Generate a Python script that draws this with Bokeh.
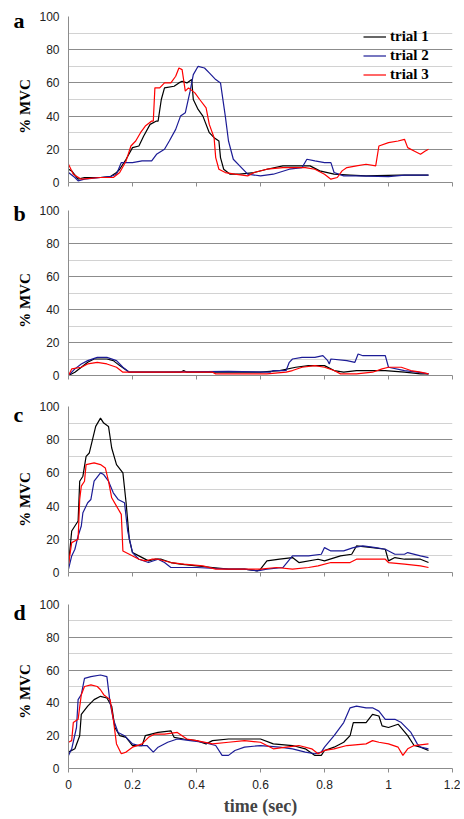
import math
from bokeh.plotting import figure
from bokeh.layouts import column, row
from bokeh.models import (Legend, LegendItem, FixedTicker, SingleIntervalTicker,
                          CustomJSTickFormatter, Range1d)
from bokeh.core.properties import value
from bokeh.embed import file_html
from bokeh.resources import INLINE

# ---------------- data (time in s, % MVC) ----------------
x_ticks = [0, 0.2, 0.4, 0.6, 0.8, 1, 1.2]
y_ticks_step = 20
trial_names = ["trial 1", "trial 2", "trial 3"]
panel_letters = ["a", "b", "c", "d"]
y_title = "% MVC"
x_title = "time (sec)"

a_trial1 = [(0, 8), (0.01, 7), (0.03, 2), (0.05, 3), (0.1, 3), (0.13, 3.5), (0.15, 6), (0.16, 8),
            (0.18, 14), (0.2, 21), (0.22, 22), (0.235, 28), (0.255, 35), (0.275, 37), (0.28, 37),
            (0.29, 50), (0.3, 57), (0.33, 58), (0.345, 60), (0.355, 61), (0.37, 60), (0.385, 62),
            (0.39, 50), (0.405, 44), (0.42, 40), (0.44, 30), (0.455, 27), (0.47, 25), (0.475, 15),
            (0.485, 8), (0.505, 5), (0.535, 5), (0.58, 6), (0.62, 8), (0.67, 10), (0.725, 10),
            (0.755, 10), (0.785, 7), (0.83, 5), (0.88, 4.5), (0.93, 4), (1.035, 4.5), (1.125, 4.5)]
a_trial2 = [(0, 6), (0.02, 3), (0.03, 1), (0.05, 2), (0.1, 3), (0.13, 3.5), (0.15, 5), (0.165, 12),
            (0.2, 12), (0.23, 13), (0.26, 13), (0.275, 17), (0.3, 20), (0.315, 25), (0.335, 32),
            (0.35, 40), (0.365, 42), (0.38, 55), (0.39, 65), (0.405, 70), (0.425, 69), (0.44, 66),
            (0.46, 62), (0.475, 60), (0.49, 40), (0.5, 25), (0.515, 14), (0.535, 10), (0.56, 5),
            (0.6, 4), (0.64, 5), (0.69, 8), (0.73, 9), (0.745, 14), (0.77, 13), (0.8, 12), (0.82, 12),
            (0.83, 6), (0.86, 4), (0.9, 4), (1.0, 3.5), (1.05, 4.5), (1.125, 4.5)]
a_trial3 = [(0, 11), (0.015, 5), (0.04, 2), (0.1, 3), (0.14, 3), (0.16, 6), (0.18, 13), (0.195, 22),
            (0.21, 25), (0.225, 30), (0.24, 34), (0.26, 37), (0.265, 37), (0.27, 57), (0.285, 57),
            (0.3, 60), (0.32, 60), (0.335, 64), (0.345, 69), (0.355, 68), (0.365, 55), (0.375, 57),
            (0.395, 54), (0.41, 50), (0.43, 45), (0.44, 35), (0.455, 27), (0.46, 15), (0.47, 8),
            (0.49, 6), (0.52, 5), (0.56, 4), (0.58, 6), (0.62, 8), (0.67, 9), (0.74, 9), (0.77, 8),
            (0.8, 5), (0.82, 2), (0.84, 3), (0.855, 7), (0.87, 9), (0.9, 10), (0.93, 11), (0.96, 10),
            (0.97, 22), (1.0, 24), (1.03, 25), (1.05, 26), (1.06, 21), (1.08, 19), (1.1, 17),
            (1.115, 19), (1.125, 20)]

b_trial1 = [(0, 0), (0.02, 2), (0.04, 5), (0.06, 8), (0.08, 10), (0.12, 10), (0.14, 9), (0.16, 6),
            (0.19, 2), (0.35, 2), (0.36, 3), (0.37, 2), (0.6, 2), (0.66, 3), (0.71, 5), (0.75, 6),
            (0.8, 6), (0.83, 3), (0.86, 2), (0.9, 3), (0.95, 3), (0.99, 3), (1.05, 2), (1.1, 1),
            (1.125, 1)]
b_trial2 = [(0, 0), (0.02, 4), (0.04, 7), (0.06, 9), (0.09, 11), (0.12, 11), (0.15, 9), (0.17, 5),
            (0.19, 2), (0.3, 2), (0.5, 2.5), (0.63, 2), (0.64, 3), (0.68, 3), (0.69, 8), (0.7, 10),
            (0.73, 11), (0.77, 11), (0.795, 12), (0.81, 9), (0.815, 7), (0.82, 10), (0.87, 9),
            (0.895, 8), (0.905, 13), (0.92, 12), (0.99, 12), (1.0, 5), (1.05, 3), (1.09, 2),
            (1.125, 1)]
b_trial3 = [(0, 0), (0.01, 4), (0.04, 5), (0.06, 7), (0.09, 8), (0.12, 7), (0.15, 5), (0.17, 2),
            (0.3, 2), (0.45, 2), (0.46, 1), (0.62, 1), (0.68, 2), (0.7, 3), (0.73, 5), (0.77, 6),
            (0.8, 5), (0.83, 3), (0.85, 1), (0.9, 1), (0.95, 2), (0.98, 4), (1.0, 5), (1.04, 5),
            (1.07, 3), (1.1, 2), (1.125, 1)]

c_trial1 = [(0, 5), (0.01, 25), (0.02, 28), (0.03, 31), (0.035, 55), (0.045, 58), (0.055, 70),
            (0.065, 72), (0.075, 80), (0.085, 88), (0.1, 93), (0.11, 90), (0.125, 88), (0.135, 75),
            (0.15, 65), (0.17, 60), (0.18, 42), (0.19, 20), (0.2, 12), (0.22, 10), (0.25, 7),
            (0.27, 8), (0.29, 8), (0.32, 6), (0.35, 5), (0.4, 4), (0.45, 3), (0.5, 2), (0.55, 2),
            (0.59, 1), (0.6, 2), (0.62, 7), (0.66, 8), (0.7, 9), (0.72, 6), (0.78, 8), (0.8, 7),
            (0.85, 10), (0.885, 11), (0.9, 16), (0.95, 15), (0.99, 14), (1.0, 7), (1.02, 9),
            (1.05, 8), (1.1, 8), (1.125, 6)]
c_trial2 = [(0, 2), (0.01, 10), (0.02, 14), (0.03, 22), (0.04, 28), (0.045, 36), (0.06, 42),
            (0.07, 44), (0.08, 55), (0.1, 60), (0.11, 59), (0.125, 55), (0.14, 48), (0.155, 44),
            (0.175, 42), (0.185, 25), (0.2, 12), (0.22, 8), (0.25, 6), (0.28, 8), (0.3, 6),
            (0.32, 3), (0.4, 3), (0.5, 2), (0.55, 2), (0.59, 1), (0.62, 2), (0.67, 3), (0.7, 10),
            (0.75, 10), (0.79, 11), (0.8, 15), (0.82, 13), (0.86, 13), (0.89, 15), (0.92, 16),
            (0.96, 15), (0.99, 14), (1.02, 11), (1.05, 11), (1.06, 12), (1.1, 10), (1.125, 9)]
c_trial3 = [(0, 5), (0.01, 18), (0.03, 20), (0.035, 44), (0.04, 52), (0.05, 55), (0.055, 65),
            (0.08, 66), (0.1, 65), (0.115, 63), (0.125, 55), (0.135, 45), (0.15, 40), (0.165, 35),
            (0.17, 13), (0.19, 11), (0.22, 8), (0.24, 7), (0.26, 8), (0.28, 8), (0.32, 6),
            (0.36, 5), (0.42, 4), (0.46, 2), (0.55, 2), (0.6, 2), (0.65, 3), (0.7, 2), (0.75, 3),
            (0.78, 4), (0.82, 6), (0.88, 6), (0.9, 8), (0.95, 8), (0.99, 8), (1.0, 6), (1.05, 5),
            (1.1, 4), (1.125, 3)]

d_trial1 = [(0, 10), (0.02, 12), (0.035, 20), (0.04, 33), (0.06, 38), (0.08, 42), (0.1, 44),
            (0.12, 43), (0.135, 38), (0.145, 25), (0.16, 20), (0.18, 19), (0.2, 14), (0.23, 14),
            (0.24, 20), (0.28, 22), (0.32, 23), (0.33, 19), (0.36, 18), (0.4, 17), (0.43, 15),
            (0.45, 17), (0.5, 18), (0.55, 18), (0.6, 18), (0.64, 15), (0.7, 14), (0.74, 12),
            (0.77, 8), (0.79, 8), (0.8, 11), (0.83, 13), (0.86, 16), (0.88, 20), (0.89, 28),
            (0.93, 28), (0.95, 33), (0.97, 32), (0.98, 26), (1.0, 25), (1.03, 27), (1.06, 20),
            (1.08, 14), (1.1, 13), (1.125, 11)]
d_trial2 = [(0, 8), (0.01, 12), (0.025, 25), (0.03, 42), (0.04, 45), (0.05, 55), (0.07, 56),
            (0.1, 57), (0.12, 56), (0.13, 40), (0.14, 30), (0.155, 22), (0.175, 20), (0.2, 15),
            (0.22, 14), (0.245, 14), (0.265, 10), (0.28, 13), (0.31, 16), (0.34, 18), (0.38, 17),
            (0.42, 16), (0.46, 14), (0.48, 8), (0.5, 8), (0.52, 11), (0.55, 13), (0.6, 14),
            (0.66, 13), (0.7, 12), (0.74, 10), (0.77, 9), (0.79, 10), (0.8, 13), (0.83, 20),
            (0.86, 28), (0.88, 37), (0.9, 38), (0.93, 37), (0.95, 37), (0.97, 35), (0.99, 30),
            (1.02, 30), (1.04, 28), (1.07, 22), (1.09, 15), (1.1, 13), (1.125, 12)]
d_trial3 = [(0, 16), (0.01, 17), (0.015, 28), (0.03, 30), (0.04, 45), (0.05, 50), (0.07, 51),
            (0.09, 50), (0.1, 48), (0.11, 45), (0.13, 42), (0.14, 30), (0.15, 15), (0.165, 9),
            (0.18, 10), (0.2, 13), (0.23, 15), (0.25, 19), (0.27, 21), (0.3, 21), (0.34, 22),
            (0.37, 18), (0.4, 17), (0.45, 15), (0.5, 16), (0.55, 17), (0.6, 16), (0.64, 12),
            (0.68, 13), (0.72, 14), (0.76, 12), (0.78, 9), (0.8, 11), (0.83, 12), (0.87, 14),
            (0.93, 15), (0.95, 17), (0.97, 16), (1.0, 15), (1.03, 13), (1.045, 8), (1.06, 12),
            (1.08, 14), (1.125, 15)]

panels = [
    [a_trial1, a_trial2, a_trial3],
    [b_trial1, b_trial2, b_trial3],
    [c_trial1, c_trial2, c_trial3],
    [d_trial1, d_trial2, d_trial3],
]

# ---------------- styling / layout ----------------
colors = ["#000000", "#1c1c96", "#ff0000"]
SANS = "Liberation Sans"
SERIF = "Liberation Serif"
# (height, top border, bottom border) of each panel figure
geom = [(194, 16, 12), (193, 16, 12), (197, 19, 12), (234, 20, 48)]
TOTAL_H = sum(g[0] for g in geom)
SIDE_W = 36
# side column text placement (pixels from the top of the page area)
letter_x, letter_base = 13, [20, 213, 414, 612]
ytitle_x, ytitle_mid = 24, [106, 300, 499, 691]

figs = []
for i, series in enumerate(panels):
    h, bt, bb = geom[i]
    last = i == len(panels) - 1
    p = figure(width=460 - SIDE_W, height=h, output_backend="svg", toolbar_location=None,
               x_range=Range1d(0, 1.2), y_range=Range1d(0, 100),
               min_border_left=32, min_border_right=8, min_border_top=bt, min_border_bottom=bb)
    p.outline_line_color = None
    p.background_fill_color = "white"

    renderers = []
    for s, c in zip(series, colors):
        xs = [pt[0] for pt in s]
        ys = [pt[1] for pt in s]
        renderers.append(p.line(xs, ys, line_color=c, line_width=1.2))

    # y axis
    p.yaxis.ticker = SingleIntervalTicker(interval=y_ticks_step, num_minor_ticks=2)
    p.yaxis.major_tick_out = 0
    p.yaxis.major_tick_in = 0
    p.yaxis.minor_tick_out = 0
    p.yaxis.minor_tick_in = 0
    p.yaxis.axis_line_color = "#8c8c8c"
    p.yaxis.major_label_text_font = SANS
    p.yaxis.major_label_text_font_size = "12px"
    p.yaxis.major_label_text_color = "#222222"
    p.yaxis.major_label_standoff = 9

    # grid
    p.xgrid.grid_line_color = None
    p.ygrid.grid_line_color = "#8c8c8c"
    p.ygrid.grid_line_width = 1
    p.ygrid.minor_grid_line_color = "#d2d2d2"

    # x axis
    p.xaxis.ticker = FixedTicker(ticks=x_ticks, minor_ticks=[])
    p.xaxis.axis_line_color = "#8c8c8c"
    p.xaxis.major_tick_line_color = "#8c8c8c"
    p.xaxis.major_tick_out = 4
    p.xaxis.major_tick_in = 0
    p.xaxis.minor_tick_out = 0
    p.xaxis.minor_tick_in = 0
    if last:
        p.xaxis.formatter = CustomJSTickFormatter(code="return tick.toString();")
        p.xaxis.major_label_text_font = SANS
        p.xaxis.major_label_text_font_size = "12px"
        p.xaxis.major_label_text_color = "#222222"
        p.xaxis.major_label_standoff = 7
        p.xaxis.axis_label = x_title
        p.xaxis.axis_label_text_font = SERIF
        p.xaxis.axis_label_text_font_style = "bold"
        p.xaxis.axis_label_text_font_size = "18px"
        p.xaxis.axis_label_standoff = 4
    else:
        p.xaxis.formatter = CustomJSTickFormatter(code="return '';")
        p.xaxis.major_label_text_font_size = "1px"
        p.xaxis.major_label_standoff = 0

    if i == 0:
        legend = Legend(items=[LegendItem(label=n, renderers=[r]) for n, r in zip(trial_names, renderers)],
                        location=(295, 98), padding=0, spacing=0, margin=0,
                        glyph_width=23, glyph_height=19, label_height=19, label_standoff=4,
                        label_text_font=SERIF, label_text_font_style="bold",
                        label_text_font_size="15px", label_text_color="#000000",
                        background_fill_alpha=0, border_line_alpha=0)
        p.add_layout(legend)

    figs.append(p)

# side strip holding the panel letters and the rotated "% MVC" titles
side = figure(width=SIDE_W, height=TOTAL_H, output_backend="svg", toolbar_location=None,
              x_range=Range1d(0, SIDE_W), y_range=Range1d(TOTAL_H, 0),
              x_axis_type=None, y_axis_type=None, min_border=0)
side.outline_line_color = None
side.grid.visible = False
side.text(x=[letter_x] * len(panel_letters), y=letter_base, text=panel_letters,
          text_font=value(SERIF), text_font_style="bold", text_font_size="22px",
          text_color="#000000", text_align="left", text_baseline="alphabetic")
side.text(x=[ytitle_x] * len(panel_letters), y=ytitle_mid, text=[y_title] * len(panel_letters),
          angle=math.pi / 2,
          text_font=value(SERIF), text_font_style="bold", text_font_size="15px",
          text_color="#000000", text_align="center", text_baseline="middle")

layout = row(side, column(*figs, spacing=0), spacing=0)
open("out.html", "w").write(file_html(layout, INLINE))
